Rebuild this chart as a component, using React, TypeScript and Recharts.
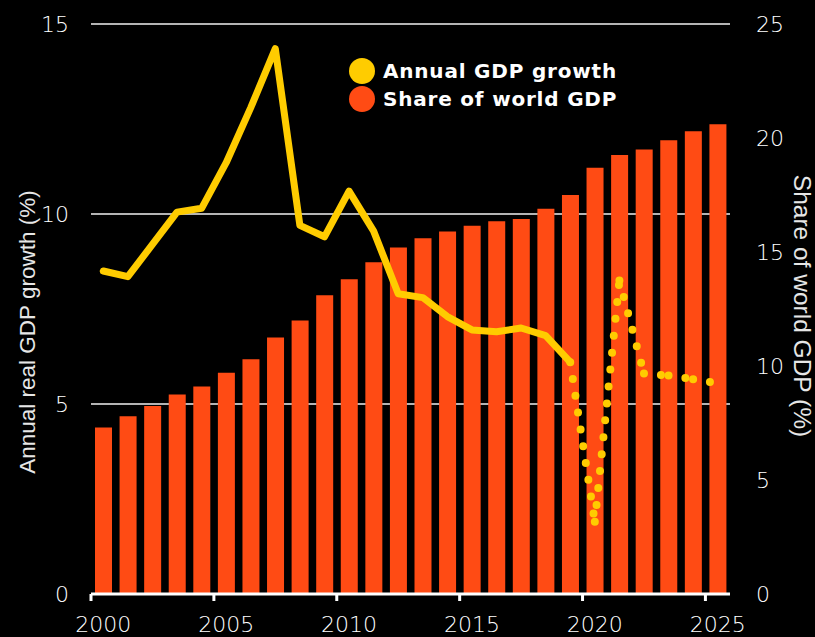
import React from 'react';
import { ComposedChart, Bar, Line, XAxis, YAxis, CartesianGrid } from 'recharts';

const years = [2000, 2001, 2002, 2003, 2004, 2005, 2006, 2007, 2008, 2009, 2010, 2011, 2012,
  2013, 2014, 2015, 2016, 2017, 2018, 2019, 2020, 2021, 2022, 2023, 2024, 2025];
const shareOfWorldGdp = [7.3, 7.8, 8.25, 8.75, 9.1, 9.7, 10.3, 11.25, 12.0, 13.1, 13.8, 14.55, 15.2,
  15.6, 15.9, 16.15, 16.35, 16.45, 16.9, 17.5, 18.7, 19.25, 19.5, 19.9, 20.3, 20.6];
const gdpGrowth: (number | null)[] = [8.5, 8.35, 9.2, 10.05, 10.15, 11.35, 12.8, 14.35, 9.7, 9.4, 10.6,
  9.55, 7.9, 7.8, 7.3, 6.95, 6.9, 7.0, 6.8, 6.1, null, null, null, null, null, null];
const gdpGrowthForecast: (number | null)[] = [null, null, null, null, null, null, null, null, null, null,
  null, null, null, null, null, null, null, null, null, 6.1, 1.9, 8.25, 5.8, 5.75, 5.65, 5.55];
const xTicks = [2000, 2005, 2010, 2015, 2020, 2025];
const leftTicks = [0, 5, 10, 15];
const rightTicks = [0, 5, 10, 15, 20, 25];

const legendItems = [
  { name: 'Annual GDP growth', color: '#FFCC00' },
  { name: 'Share of world GDP', color: '#FF4B14' },
];

const YELLOW = '#FFCC00';
const ORANGE = '#FF4B14';
const TEXT = '#e6e6e6';
const TICK_TEXT = '#ffffff';
const TICK_FONT = 'DejaVu Sans';
const TICK_WEIGHT = 300;
const TITLE_FONT = 'Liberation Sans';

// forecast drawn as separate segments so the dot pattern restarts at every year
const segStarts: number[] = [];
gdpGrowthForecast.forEach((v, i) => {
  if (v != null && i + 1 < gdpGrowthForecast.length && gdpGrowthForecast[i + 1] != null) segStarts.push(i);
});

const data = years.map((yr, i) => {
  const row: Record<string, number | null> = {
    x: yr + 0.5,
    share: shareOfWorldGdp[i],
    growth: gdpGrowth[i],
  };
  segStarts.forEach((s) => {
    row[`f${s}`] = i === s || i === s + 1 ? gdpGrowthForecast[i] : null;
  });
  return row;
});

const XTick = (props: any) => {
  const { x, y, payload } = props;
  return (
    <text x={x + 12.3} y={y + 29} textAnchor="middle" fill={TICK_TEXT} fontSize={22} fontFamily={TICK_FONT}
      fontWeight={TICK_WEIGHT}>
      {payload.value}
    </text>
  );
};

const LeftTitle = (props: any) => {
  const vb = props.viewBox || { x: 0, y: 24, width: 91, height: 570 };
  const cx = vb.x + 35;
  const cy = vb.y + vb.height / 2 + 23;
  return (
    <text x={cx} y={cy} transform={`rotate(-90 ${cx} ${cy})`} textAnchor="middle" fill={TEXT}
      fontSize={22.5} fontFamily={TITLE_FONT}>
      Annual real GDP growth (%)
    </text>
  );
};

const RightTitle = (props: any) => {
  const vb = props.viewBox || { x: 730, y: 24, width: 85, height: 570 };
  const cx = vb.x + 64;
  const cy = vb.y + vb.height / 2 - 3;
  return (
    <text x={cx} y={cy} transform={`rotate(90 ${cx} ${cy})`} textAnchor="middle" fill={TEXT}
      fontSize={24.5} fontFamily={TITLE_FONT}>
      Share of world GDP (%)
    </text>
  );
};

export default function App() {
  return (
    <div style={{ position: 'fixed', left: 0, top: 0, right: 0, bottom: 0, background: '#000' }}>
      <div style={{ position: 'relative', width: 815, height: 637 }}>
        <ComposedChart width={815} height={637} data={data} margin={{ top: 24, right: 0, bottom: 0, left: 0 }}>
          <CartesianGrid yAxisId="left" vertical={false} horizontal stroke="#b4b4b4" strokeWidth={2} />
          <XAxis
            dataKey="x"
            type="number"
            domain={[2000, 2026]}
            ticks={xTicks}
            allowDecimals={false}
            height={43}
            stroke="#ffffff"
            strokeWidth={3}
            tickSize={7}
            tickMargin={2}
            tick={<XTick />}
            tickLine={{ stroke: '#ffffff', strokeWidth: 3 }}
          />
          <YAxis
            yAxisId="left"
            orientation="left"
            domain={[0, 15]}
            ticks={leftTicks}
            width={91}
            axisLine={false}
            tickLine={false}
            tickSize={0}
            tickMargin={22}
            tick={{ fill: TICK_TEXT, fontSize: 22, fontFamily: TICK_FONT, fontWeight: TICK_WEIGHT }}
            label={{ value: 'Annual real GDP growth (%)', content: <LeftTitle /> }}
          />
          <YAxis
            yAxisId="right"
            orientation="right"
            domain={[0, 25]}
            ticks={rightTicks}
            width={85}
            axisLine={false}
            tickLine={false}
            tickSize={0}
            tickMargin={26}
            tick={{ fill: TICK_TEXT, fontSize: 22, fontFamily: TICK_FONT, fontWeight: TICK_WEIGHT, textAnchor: 'start' }}
            label={{ value: 'Share of world GDP (%)', content: <RightTitle /> }}
          />
          <Bar yAxisId="right" dataKey="share" fill={ORANGE} barSize={17} isAnimationActive={false} />
          <Line
            yAxisId="left"
            dataKey="growth"
            type="linear"
            stroke={YELLOW}
            strokeWidth={7}
            strokeLinejoin="round"
            strokeLinecap="round"
            dot={false}
            activeDot={false}
            isAnimationActive={false}
          />
          {segStarts.map((s) => (
            <Line
              key={s}
              yAxisId="left"
              dataKey={`f${s}`}
              type="linear"
              stroke={YELLOW}
              strokeWidth={8}
              strokeLinecap="round"
              strokeDasharray="0 17"
              dot={false}
              activeDot={false}
              isAnimationActive={false}
            />
          ))}
        </ComposedChart>
        <div style={{ position: 'absolute', left: 349, top: 57, fontFamily: 'DejaVu Sans', fontWeight: 700,
          fontSize: 20, letterSpacing: 0.8, color: '#ffffff' }}>
          {legendItems.map((it) => (
            <div key={it.name} style={{ display: 'flex', alignItems: 'center', height: 28 }}>
              <div style={{ width: 26, height: 26, borderRadius: 13, background: it.color, marginRight: 8 }} />
              <span style={{ lineHeight: '28px' }}>{it.name}</span>
            </div>
          ))}
        </div>
      </div>
    </div>
  );
}
